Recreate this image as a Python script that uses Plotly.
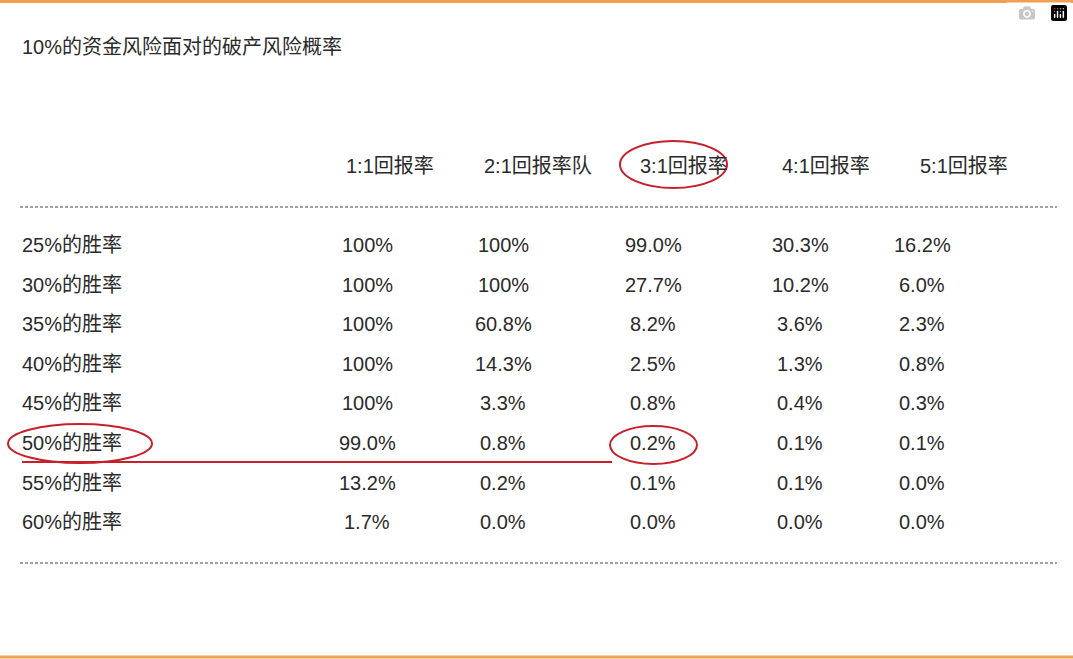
import plotly.graph_objects as go

title = "10%的资金风险面对的破产风险概率"
col_headers = ["1:1回报率", "2:1回报率队", "3:1回报率", "4:1回报率", "5:1回报率"]
row_labels = ["25%的胜率", "30%的胜率", "35%的胜率", "40%的胜率",
              "45%的胜率", "50%的胜率", "55%的胜率", "60%的胜率"]
values = [
    ["100%", "100%", "99.0%", "30.3%", "16.2%"],
    ["100%", "100%", "27.7%", "10.2%", "6.0%"],
    ["100%", "60.8%", "8.2%", "3.6%", "2.3%"],
    ["100%", "14.3%", "2.5%", "1.3%", "0.8%"],
    ["100%", "3.3%", "0.8%", "0.4%", "0.3%"],
    ["99.0%", "0.8%", "0.2%", "0.1%", "0.1%"],
    ["13.2%", "0.2%", "0.1%", "0.1%", "0.0%"],
    ["1.7%", "0.0%", "0.0%", "0.0%", "0.0%"],
]

W, H = 1073, 659
FONT = dict(family="Liberation Sans, Noto Sans CJK SC", size=20, color="#2a2a2a")
header_x = [390, 538, 684, 826, 964]
value_x = [367, 503, 653, 800, 922]
row_y0, row_dy = 245, 39.6

fig = go.Figure()
ann = [dict(x=20, y=47, text=title, xanchor="left", showarrow=False, font=FONT)]
for x, h in zip(header_x, col_headers):
    ann.append(dict(x=x, y=166, text=h, showarrow=False, font=FONT))
for i, (lab, row) in enumerate(zip(row_labels, values)):
    y = row_y0 + i * row_dy
    ann.append(dict(x=20, y=y, text=lab, xanchor="left", showarrow=False, font=FONT))
    for x, v in zip(value_x, row):
        ann.append(dict(x=x, y=y, text=v, showarrow=False, font=FONT))

shapes = [
    dict(type="line", x0=0, x1=W, y0=1.5, y1=1.5, line=dict(color="#f0a050", width=3)),
    dict(type="line", x0=0, x1=W, y0=657, y1=657, line=dict(color="#f0a050", width=3)),
    dict(type="line", x0=20, x1=1057, y0=207, y1=207, line=dict(color="#444", width=1.2, dash="3px,2px")),
    dict(type="line", x0=20, x1=1057, y0=563, y1=563, line=dict(color="#444", width=1.2, dash="3px,2px")),
    dict(type="circle", x0=620, x1=727, y0=141, y1=188, line=dict(color="#c8202a", width=2)),
    dict(type="circle", x0=8, x1=152, y0=424, y1=463, line=dict(color="#c8202a", width=2)),
    dict(type="circle", x0=610, x1=697, y0=426, y1=464, line=dict(color="#c8202a", width=2)),
    dict(type="line", x0=22, x1=612, y0=462, y1=462, line=dict(color="#c8202a", width=2)),
]

fig.update_layout(
    width=W, height=H, margin=dict(l=0, r=0, t=0, b=0),
    paper_bgcolor="white", plot_bgcolor="white",
    xaxis=dict(range=[0, W], visible=False, fixedrange=True),
    yaxis=dict(range=[H, 0], visible=False, fixedrange=True),
    annotations=ann, shapes=shapes, showlegend=False,
)
fig.write_html("out.html", post_script="document.body.style.margin='0';")
